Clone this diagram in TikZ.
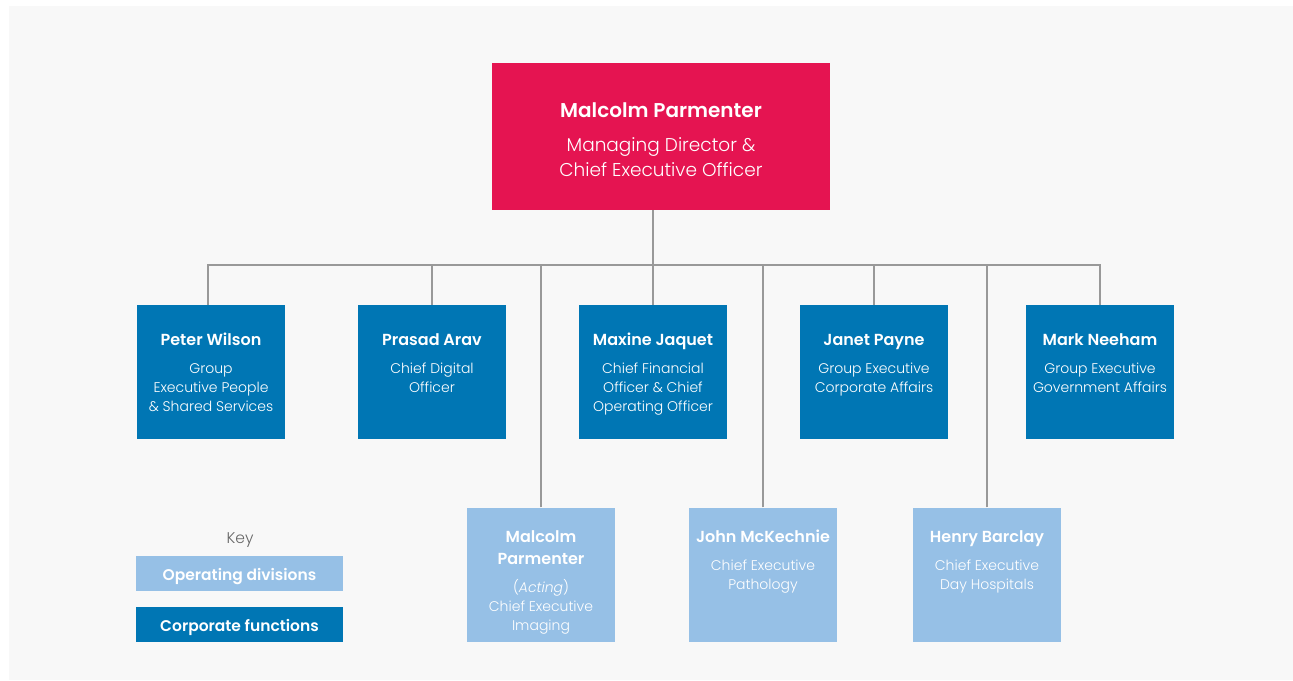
\documentclass[tikz,border=0pt]{standalone}
\usepackage{fontspec}
\setmainfont{Poppins}[BoldFont={Poppins SemiBold}]
\newfontfamily\lightfont{Poppins Light}[ItalicFont={Poppins Light Italic}]
\usepackage{xcolor}
\usetikzlibrary{positioning, calc}
\definecolor{CeoRed}{RGB}{229, 20, 81}
\definecolor{CorpBlue}{RGB}{0, 118, 180}
\definecolor{DivBlue}{RGB}{150, 192, 230}
\definecolor{PanelGray}{RGB}{248, 248, 248}
\definecolor{LinkGray}{RGB}{153, 153, 153}
\definecolor{KeyGray}{RGB}{102, 102, 102}

% name on top, role below, in a 148 x 134 box
\newcommand{\rolebox}[3]{\parbox[c][134pt][t]{146pt}{\centering
    {\fontsize{16}{22}\selectfont\bfseries\rule{0pt}{#1}#2\par}
    \lightfont\fontsize{14}{19}\selectfont\vspace{9pt}#3}}

\begin{document}
\begin{tikzpicture}[x=1pt, y=-1pt,
        boss/.style={fill=CeoRed, text=white, inner sep=0pt, minimum width=338pt, minimum height=147pt},
        corp/.style={fill=CorpBlue, text=white, inner sep=0pt, minimum width=148pt, minimum height=134pt},
        div/.style={fill=DivBlue, text=white, inner sep=0pt, minimum width=148pt, minimum height=134pt},
        keybox/.style={inner sep=0pt, minimum width=207pt, minimum height=35pt, text height=16pt, text depth=2pt, text=white, font=\fontsize{15.5}{18}\selectfont\bfseries},
        link/.style={draw=LinkGray, line width=1.5pt}
    ]

    % Background
    \useasboundingbox (0,0) rectangle (1293,680);
    \fill[PanelGray] (9,6) rectangle (1293,680);

    % Managing director
    \node[boss] (ceo) at (661,136.5) {\parbox[c][147pt][t]{330pt}{\centering
        {\fontsize{20}{25}\selectfont\bfseries\rule{0pt}{54pt}Malcolm Parmenter\par}
        \lightfont\fontsize{18.5}{25}\selectfont\vspace{9pt}Managing Director \&\\Chief Executive Officer}};

    % Corporate functions
    \node[corp] (wilson) at (211,372) {\rolebox{40pt}{Peter Wilson}{Group\\Executive People\\\& Shared Services}};
    \node[corp] (arav) at (432,372) {\rolebox{40pt}{Prasad Arav}{Chief Digital\\Officer}};
    \node[corp] (jaquet) at (653,372) {\rolebox{40pt}{Maxine Jaquet}{Chief Financial\\Officer \& Chief\\Operating Officer}};
    \node[corp] (payne) at (874,372) {\rolebox{40pt}{Janet Payne}{Group Executive\\Corporate Affairs}};
    \node[corp] (neeham) at (1100,372) {\rolebox{40pt}{Mark Neeham}{Group Executive\\Government Affairs}};

    % Operating divisions
    \node[div] (acting) at (541,574.5) {\rolebox{35pt}{Malcolm\\Parmenter}{(\textit{Acting})\\Chief Executive\\Imaging}};
    \node[div] (mckechnie) at (763,574.5) {\rolebox{35pt}{John McKechnie}{Chief Executive\\Pathology}};
    \node[div] (barclay) at (987,574.5) {\rolebox{35pt}{Henry Barclay}{Chief Executive\\Day Hospitals}};

    % Lines
    \coordinate (bus) at (0,265);
    \draw[link] (ceo.south -| jaquet.north) -- (jaquet.north);
    \draw[link] ([xshift=-3pt]wilson.north) |- (bus -| neeham.north) -- (neeham.north);
    \foreach \n in {arav, payne, acting, mckechnie, barclay}
        \draw[link] (\n.north) -- (\n.north |- bus);

    % Key
    \node[text=KeyGray, font=\lightfont\fontsize{15.5}{18}\selectfont] (keytitle) at (240,540) {Key};
    \node[keybox, fill=DivBlue] (keydiv) at (239.5,573.5) {Operating divisions};
    \node[keybox, fill=CorpBlue] (keycorp) at (239.5,624.5) {Corporate functions};

\end{tikzpicture}
\end{document}
